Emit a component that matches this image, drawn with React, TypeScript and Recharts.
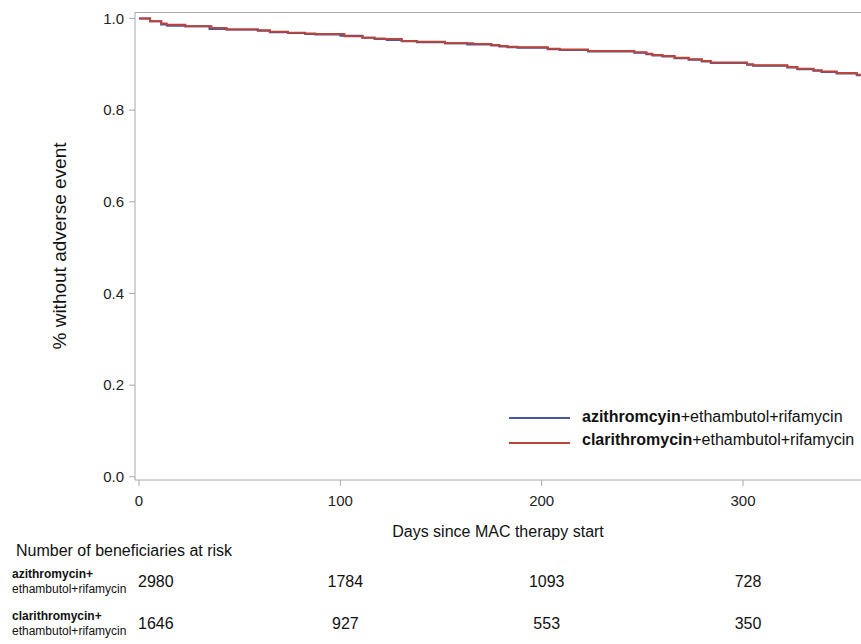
import React from "react";
import {
  LineChart,
  Line,
  XAxis,
  YAxis,
  ScatterChart,
  Scatter,
} from "recharts";

// ---- data ----
const seriesNames = [
  { bold: "azithromcyin", rest: "+ethambutol+rifamycin" },
  { bold: "clarithromycin", rest: "+ethambutol+rifamycin" },
];

const aziDays = [0, 5.5, 11, 14, 23, 35, 43.5, 59, 65, 74, 82.5, 87.5, 100, 111, 117, 123, 130.5, 138, 152, 163, 175, 179, 183, 188, 203, 209, 223, 246, 252, 255, 260, 266, 273, 279.5, 284, 302, 305, 322, 327, 335, 339, 346.5, 356.5, 365];
const aziSurv = [1.0, 0.994, 0.987, 0.984, 0.983, 0.977, 0.976, 0.973, 0.970, 0.968, 0.966, 0.965, 0.962, 0.958, 0.955, 0.953, 0.950, 0.948, 0.946, 0.943, 0.941, 0.939, 0.937, 0.936, 0.933, 0.931, 0.928, 0.925, 0.922, 0.919, 0.917, 0.913, 0.910, 0.906, 0.903, 0.899, 0.897, 0.893, 0.889, 0.886, 0.883, 0.880, 0.876, 0.876];

const claDays = [0, 5.5, 11, 13.7, 23, 36, 43.5, 59, 65, 74, 82.5, 87.5, 102, 111, 117, 122, 130.5, 138, 152, 166, 175, 179, 183, 188, 203, 209, 223, 246, 252, 255, 260, 266, 273, 279.5, 284, 302, 305, 322, 327, 335, 339, 346.5, 356.5, 365];
const claSurv = [1.0, 0.994, 0.989, 0.986, 0.983, 0.979, 0.976, 0.974, 0.971, 0.969, 0.967, 0.966, 0.961, 0.958, 0.956, 0.955, 0.951, 0.949, 0.946, 0.944, 0.942, 0.940, 0.938, 0.937, 0.934, 0.932, 0.929, 0.926, 0.923, 0.920, 0.918, 0.914, 0.911, 0.907, 0.904, 0.900, 0.898, 0.894, 0.890, 0.887, 0.884, 0.881, 0.877, 0.877];

const xTicks = [0, 100, 200, 300];
const yTicks = [0, 0.2, 0.4, 0.6, 0.8, 1.0];

const riskDays = [0, 100, 200, 300];
const riskAzi = [2980, 1784, 1093, 728];
const riskCla = [1646, 927, 553, 350];
const riskRowLabels = [
  ["azithromycin+", "ethambutol+rifamycin"],
  ["clarithromycin+", "ethambutol+rifamycin"],
];
const riskTitle = "Number of beneficiaries at risk";
const xLabel = "Days since MAC therapy start";
const yLabel = "% without adverse event";

// ---- derived tables ----
const aziData = aziDays.map((d, i) => ({ day: d, s: aziSurv[i] }));
const claData = claDays.map((d, i) => ({ day: d, s: claSurv[i] }));
const riskData = [
  ...riskDays.map((d, i) => ({ day: d, row: 0, n: riskAzi[i] })),
  ...riskDays.map((d, i) => ({ day: d, row: 1, n: riskCla[i] })),
];

const BLUE = "#4657a6";
const RED = "#b8443b";
const FRAME = "#a8a8a8";
const FONT = "'Liberation Sans', Arial, Helvetica, sans-serif";
const X_DOMAIN: [number, number] = [-2, 358.6];

const LegendBox = () => (
  <div
    style={{
      position: "absolute",
      left: 509,
      top: 405,
      fontFamily: FONT,
      fontSize: 16,
      color: "#111",
      pointerEvents: "none",
    }}
  >
    {seriesNames.map((s, i) => (
      <div
        key={i}
        style={{ display: "flex", alignItems: "center", height: 23, whiteSpace: "nowrap" }}
      >
        <svg width={61} height={8} style={{ marginRight: 12, marginTop: i === 1 ? 6 : 2 }}>
          <line x1={0} x2={61} y1={4} y2={4} stroke={i === 0 ? BLUE : RED} strokeWidth={2} />
        </svg>
        <span>
          <b>{s.bold}</b>
          {s.rest}
        </span>
      </div>
    ))}
  </div>
);

const RiskCell = (props: any) => {
  const { cx, cy, payload } = props;
  const start = payload.day === 0;
  return (
    <text
      x={start ? cx - 1 : cx + 5}
      y={cy}
      dy="0.36em"
      textAnchor={start ? "start" : "middle"}
      fontFamily={FONT}
      fontSize={16}
      fill="#111"
    >
      {payload.n}
    </text>
  );
};

export default function App() {
  return (
    <div style={{ position: "absolute", left: 0, top: 0, width: 861, height: 644, background: "#fff" }}>
      <div style={{ position: "absolute", left: 0, top: 0 }}>
        <LineChart width={861} height={560} margin={{ top: 12, right: 0, bottom: 0, left: 0 }}>
          <XAxis
            type="number"
            dataKey="day"
            domain={X_DOMAIN}
            allowDataOverflow
            ticks={xTicks}
            height={80}
            tickSize={6}
            tickMargin={9}
            stroke={FRAME}
            tick={{ fill: "#222", fontSize: 15, fontFamily: FONT }}
            label={{
              value: xLabel,
              position: "insideTop",
              offset: 46,
              fill: "#111",
              fontSize: 16,
              fontFamily: FONT,
            }}
          />
          <YAxis
            type="number"
            domain={[-0.007, 1.014]}
            allowDataOverflow
            ticks={yTicks}
            width={135}
            tickSize={6}
            tickMargin={5}
            stroke={FRAME}
            tickFormatter={(v: number) => v.toFixed(1)}
            tick={{ fill: "#222", fontSize: 15, fontFamily: FONT }}
            label={{
              value: yLabel,
              angle: -90,
              position: "center",
              dx: -8,
              fill: "#111",
              fontSize: 19,
              fontFamily: FONT,
            }}
          />
          <Line
            data={aziData}
            dataKey="s"
            type="stepAfter"
            stroke={BLUE}
            strokeWidth={2}
            dot={false}
            isAnimationActive={false}
            name="azi"
          />
          <Line
            data={claData}
            dataKey="s"
            type="stepAfter"
            stroke={RED}
            strokeWidth={2}
            dot={false}
            isAnimationActive={false}
            name="cla"
          />
        </LineChart>
      </div>
      <div
        style={{
          position: "absolute",
          left: 135,
          top: 12,
          width: 726,
          height: 1,
          background: FRAME,
        }}
      />
      <LegendBox />
      <div style={{ position: "absolute", left: 0, top: 0 }}>
        <ScatterChart width={861} height={644} margin={{ top: 560, right: 0, bottom: 0, left: 135 }}>
          <XAxis type="number" dataKey="day" domain={X_DOMAIN} hide allowDataOverflow />
          <YAxis type="number" dataKey="row" domain={[-0.5, 1.5]} reversed hide />
          <Scatter data={riskData} shape={<RiskCell />} isAnimationActive={false} />
        </ScatterChart>
      </div>
      <svg
        width={861}
        height={644}
        style={{ position: "absolute", left: 0, top: 0, pointerEvents: "none" }}
      >
        <text x={16} y={556} fontFamily={FONT} fontSize={16} fill="#111">
          {riskTitle}
        </text>
        {riskRowLabels.map((lab, i) => (
          <g key={i}>
            <text x={12} y={578 + i * 42} fontFamily={FONT} fontSize={12} fontWeight="bold" fill="#111">
              {lab[0]}
            </text>
            <text x={12} y={593 + i * 42} fontFamily={FONT} fontSize={12} fill="#111">
              {lab[1]}
            </text>
          </g>
        ))}
      </svg>
    </div>
  );
}
